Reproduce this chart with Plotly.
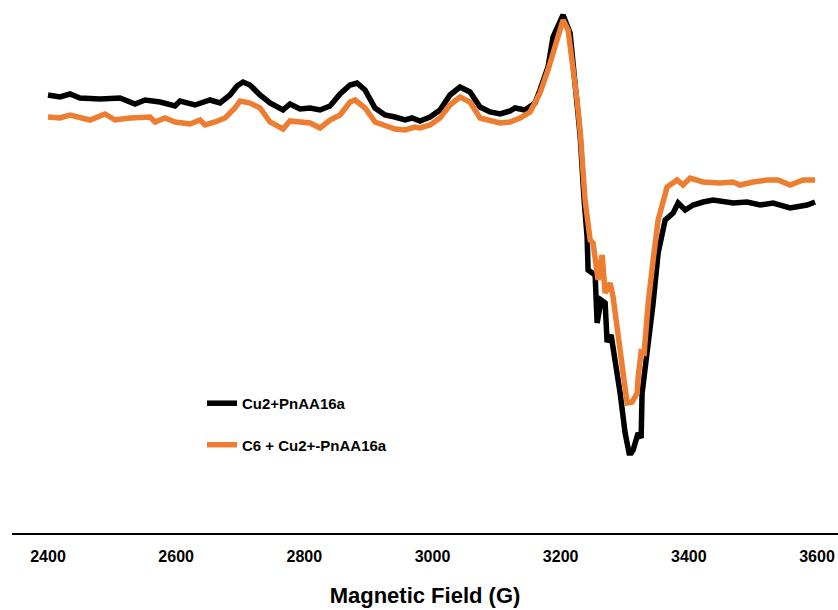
import plotly.graph_objects as go

# Magnetic field (G) and intensity (arbitrary units)
field_black = [2400, 2418.7, 2434.3, 2449.9, 2481.1, 2512.4, 2535.8, 2551.4, 2574.8, 2598.2,
               2606, 2629.4, 2652.8, 2668.4, 2684, 2694.9, 2704.3, 2715.2, 2730.8, 2746.4,
               2766.7, 2777.6, 2793.2, 2808.9, 2824.5, 2840.1, 2855.7, 2871.3, 2882.2, 2894.7,
               2910.3, 2925.9, 2941.5, 2957.1, 2968, 2980.5, 2996.1, 3011.7, 3027.3, 3042.9,
               3058.5, 3074.2, 3089.8, 3105.4, 3121, 3128.8, 3144.4, 3160, 3167.8, 3180.3,
               3188.1, 3199.1, 3203.7, 3214.7, 3219.4, 3225.6, 3230.3, 3236.6, 3241.3, 3242.8,
               3253.8, 3256.9, 3263.1, 3269.4, 3272.5, 3278.7, 3281.8, 3292.8, 3300.6, 3304.0,
               3306.8, 3310.0, 3313.1, 3320.9, 3325.6, 3327.1, 3334.9, 3344.3, 3352.1, 3363.1,
               3375.5, 3383.3, 3394.3, 3406.7, 3422.3, 3437.9, 3469.1, 3491, 3511.2, 3531.5,
               3558, 3584.5, 3597]
int_black = [435, 433, 436, 432, 431, 432, 426, 430, 428, 424,
             429, 425, 430, 427, 435, 444, 448, 445, 435, 427,
             420, 426, 421, 422, 420, 424, 436, 445, 447, 440,
             422, 415, 413, 410, 412, 409, 413, 420, 435, 443,
             438, 423, 418, 416, 419, 422, 420, 427, 440, 463,
             493, 508, 515, 497, 470, 430, 395, 330, 293, 260,
             255, 207, 230, 227, 188, 195, 183, 137, 97, 82,
             77, 77, 80, 97, 92, 137, 177, 227, 277, 310,
             317, 327, 320, 325, 328, 330, 327, 328, 325, 327,
             322, 325, 328]

field_orange = [2400, 2418.7, 2434.3, 2449.9, 2465.5, 2488.9, 2504.6, 2528, 2559.2, 2567,
                2582.6, 2598.2, 2621.6, 2637.2, 2645, 2660.6, 2676.2, 2691.8, 2699.6, 2715.2,
                2730.8, 2746.4, 2766.7, 2777.6, 2793.2, 2808.9, 2824.5, 2840.1, 2855.7, 2871.3,
                2879.1, 2894.7, 2910.3, 2925.9, 2941.5, 2957.1, 2972.7, 2980.5, 2996.1, 3011.7,
                3027.3, 3042.9, 3058.5, 3074.2, 3089.8, 3105.4, 3121, 3136.6, 3152.2, 3167.8,
                3180.3, 3191.2, 3199.1, 3203.7, 3211.6, 3217.8, 3225.6, 3230.3, 3238.1, 3246,
                3250.6, 3258.4, 3264.7, 3269.4, 3277.2, 3281.8, 3292.8, 3303.7, 3311.5, 3319.4,
                3320.9, 3325.6, 3330.3, 3336.6, 3344.3, 3352.1, 3366.1, 3381.7, 3391, 3402,
                3422.3, 3448.8, 3469.1, 3480, 3500.2, 3522.1, 3539.3, 3558, 3578.2, 3597]
int_orange = [413, 412, 415, 413, 410, 416, 410, 412, 413, 408,
              412, 408, 406, 410, 405, 408, 412, 422, 429, 427,
              422, 408, 401, 409, 408, 407, 402, 410, 415, 428,
              430, 422, 408, 405, 401, 400, 403, 402, 405, 412,
              425, 433, 428, 412, 410, 407, 408, 412, 418, 437,
              460, 485, 500, 510, 500, 473, 430, 400, 330, 290,
              287, 250, 275, 237, 247, 233, 183, 127, 128, 137,
              153, 178, 177, 227, 270, 310, 343, 350, 345, 352,
              348, 347, 348, 345, 348, 350, 350, 345, 350, 350]

tick_vals = [2400, 2600, 2800, 3000, 3200, 3400, 3600]
tick_text = ["2400", "2600", "2800", "3000", "3200", "3400", "3600"]

FONT = "Liberation Sans"

fig = go.Figure()
fig.add_trace(go.Scatter(x=field_black, y=int_black, mode="lines",
                         name="<b>Cu2+PnAA16a</b>", legendgroup="a", legendrank=1,
                         line=dict(color="#000000", width=5.5)))
fig.add_trace(go.Scatter(x=field_orange, y=int_orange, mode="lines",
                         name="<b>C6 + Cu2+-PnAA16a</b>", legendgroup="b", legendrank=2,
                         line=dict(color="#ED7D31", width=5.5)))

fig.update_layout(
    width=838, height=610,
    paper_bgcolor="white", plot_bgcolor="white",
    margin=dict(l=12, r=0, t=0, b=77),
    font=dict(family=FONT, color="#000000"),
    showlegend=True,
    legend=dict(x=0.230, y=0.274, xanchor="left", yanchor="top",
                bgcolor="rgba(0,0,0,0)", font=dict(size=15, family=FONT),
                traceorder="grouped", tracegroupgap=19),
    xaxis=dict(range=[2343.8, 3632.8], tickvals=tick_vals, ticktext=["<b>%s</b>" % t for t in tick_text],
               showgrid=False, zeroline=False, showline=True, linecolor="#000000", linewidth=2,
               ticks="", ticklabelstandoff=8, tickfont=dict(size=16, family=FONT),
               title=dict(text="<b>Magnetic Field (G)</b>", font=dict(size=22, family=FONT), standoff=23)),
    yaxis=dict(range=[-3, 530], visible=False, showgrid=False, zeroline=False),
)

fig.write_html("out.html", config={"displayModeBar": False},
               post_script="document.body.style.margin='0';document.body.style.overflow='hidden';")
